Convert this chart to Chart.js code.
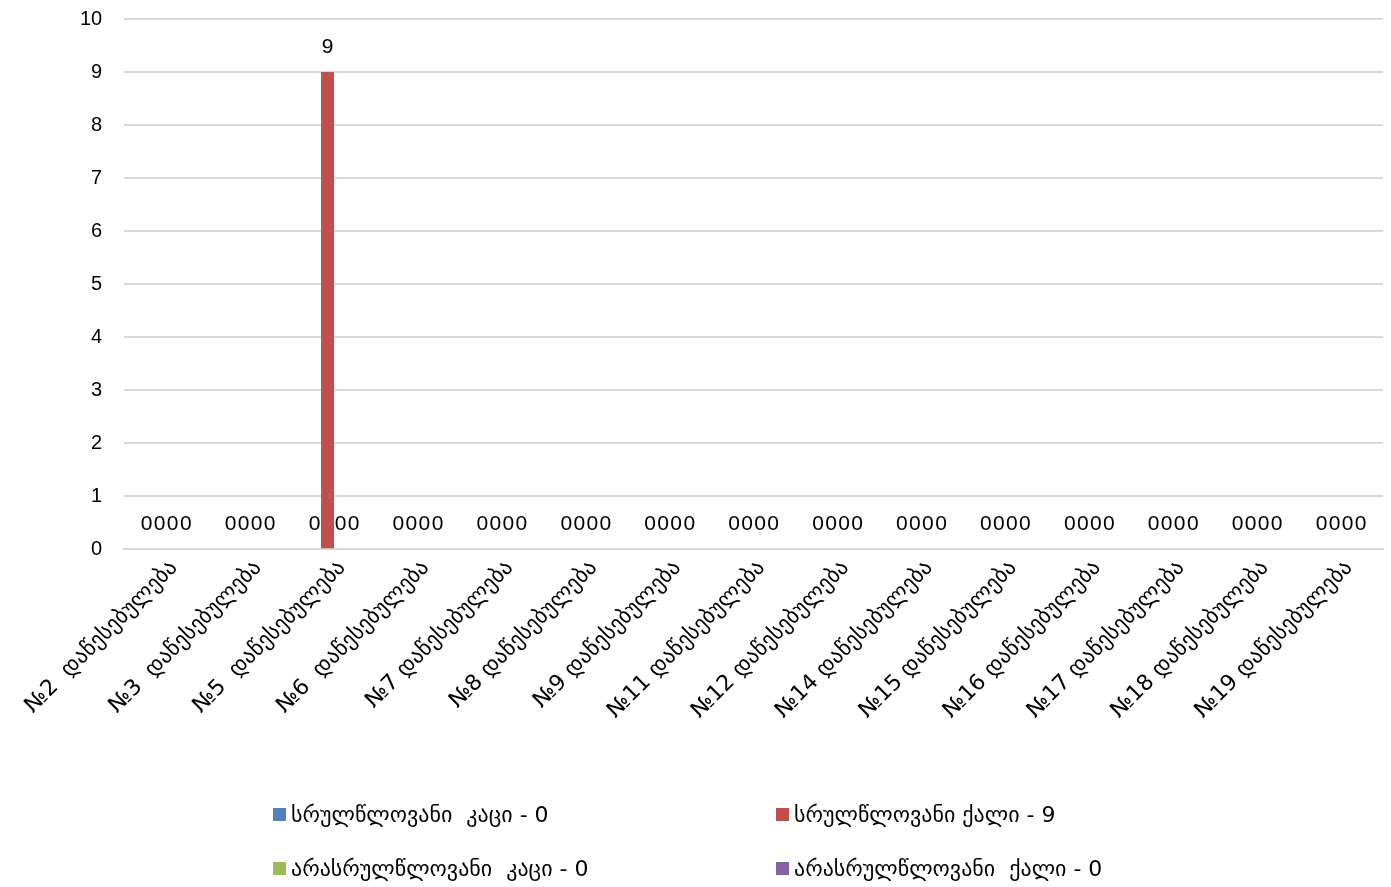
<!DOCTYPE html>
<html>
<head>
<meta charset="utf-8">
<script src="https://cdn.jsdelivr.net/npm/chart.js@4.4.1/dist/chart.umd.min.js"></script>
<style>
  html, body { margin: 0; padding: 0; background: #fff; overflow: hidden; }
  #wrap { position: relative; width: 1391px; height: 887px; overflow: hidden; }
  #c { position: absolute; left: 0; top: -15px; }
  #legend { position: absolute; left: 0; top: 0; width: 1391px; height: 887px; pointer-events: none; font-family: "DejaVu Sans", "Liberation Sans", sans-serif; font-size: 22px; color: #000; }
  .li { position: absolute; display: flex; align-items: center; white-space: pre; }
  .sw { width: 13px; height: 13px; margin-right: 5px; }
</style>
</head>
<body>
<div id="wrap">
  <canvas id="c" width="1391" height="902"></canvas>
  <div id="legend"></div>
</div>
<script>
const categories = [
  "№2  დაწესებულება", "№3  დაწესებულება", "№5  დაწესებულება", "№6  დაწესებულება",
  "№7 დაწესებულება", "№8 დაწესებულება", "№9 დაწესებულება", "№11 დაწესებულება",
  "№12 დაწესებულება", "№14 დაწესებულება", "№15 დაწესებულება", "№16 დაწესებულება",
  "№17 დაწესებულება", "№18 დაწესებულება", "№19 დაწესებულება"
];
const seriesNames = [
  "სრულწლოვანი  კაცი - 0",
  "სრულწლოვანი ქალი - 9",
  "არასრულწლოვანი  კაცი - 0",
  "არასრულწლოვანი  ქალი - 0"
];
const adultMen     = [0,0,0,0,0,0,0,0,0,0,0,0,0,0,0];
const adultWomen   = [0,0,9,0,0,0,0,0,0,0,0,0,0,0,0];
const minorMen     = [0,0,0,0,0,0,0,0,0,0,0,0,0,0,0];
const minorWomen   = [0,0,0,0,0,0,0,0,0,0,0,0,0,0,0];
const seriesColors = ["#4f81bd", "#c0504d", "#9bbb59", "#8064a2"];
const yTicks = [0,1,2,3,4,5,6,7,8,9,10];

const seriesData = [adultMen, adultWomen, minorMen, minorWomen];

const valueLabels = {
  id: 'valueLabels',
  afterDatasetsDraw(chart) {
    const ctx = chart.ctx;
    ctx.save();
    ctx.font = '21px "Liberation Sans", "DejaVu Sans", sans-serif';
    ctx.fillStyle = '#000';
    ctx.textAlign = 'center';
    ctx.textBaseline = 'middle';
    chart.data.datasets.forEach((ds, i) => {
      const meta = chart.getDatasetMeta(i);
      meta.data.forEach((el, j) => {
        ctx.fillText(String(ds.data[j]), el.x, el.y - 25);
      });
    });
    ctx.restore();
  }
};

const chart = new Chart(document.getElementById('c'), {
  type: 'bar',
  data: {
    labels: categories,
    datasets: seriesNames.map((n, i) => ({
      label: n,
      data: seriesData[i],
      backgroundColor: seriesColors[i],
      borderWidth: 0,
      barPercentage: 1.0,
      categoryPercentage: 0.62
    }))
  },
  options: {
    responsive: false,
    animation: false,
    layout: { padding: { left: 58, right: 8, top: 0, bottom: 157 } },
    plugins: { legend: { display: false }, tooltip: { enabled: false } },
    scales: {
      x: {
        grid: { display: false, drawTicks: false },
        border: { color: '#d9d9d9', width: 2 },
        ticks: {
          color: '#000',
          font: { family: '"DejaVu Sans", "Liberation Sans", sans-serif', size: 22 },
          maxRotation: 45, minRotation: 45, autoSkip: false, padding: 6, labelOffset: 8
        }
      },
      y: {
        min: 0, max: 10,
        afterBuildTicks(axis) { axis.ticks = yTicks.map(v => ({ value: v })); },
        grid: { color: '#d9d9d9', lineWidth: 2, drawTicks: false },
        border: { display: false },
        ticks: {
          color: '#000',
          font: { family: '"Liberation Sans", sans-serif', size: 20 },
          padding: 22
        }
      }
    }
  },
  plugins: [valueLabels]
});

// HTML legend built from the series
const legend = document.getElementById('legend');
const legendPos = [[273, 816], [776, 816], [273, 870], [776, 870]];
seriesNames.forEach((n, i) => {
  const d = document.createElement('div');
  d.className = 'li';
  d.style.left = legendPos[i][0] + 'px';
  d.style.top = (legendPos[i][1] - 14) + 'px';
  const sw = document.createElement('span');
  sw.className = 'sw';
  sw.style.background = seriesColors[i];
  const t = document.createElement('span');
  t.textContent = n;
  d.appendChild(sw); d.appendChild(t);
  legend.appendChild(d);
});
</script>
</body>
</html>
